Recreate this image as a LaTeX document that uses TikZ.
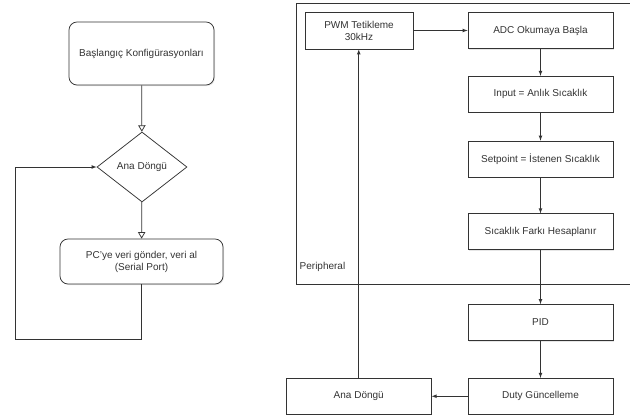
\documentclass[tikz,border=0pt]{standalone}
\usepackage{fontspec}
\setmainfont{Liberation Sans}
\usepackage{xcolor}
\usetikzlibrary{positioning}
\usetikzlibrary{shapes.geometric}
\usetikzlibrary{arrows}
\usetikzlibrary{shadows}

\definecolor{cizgi}{HTML}{333333}

\tikzset{
  kutu/.style={rectangle, draw=cizgi, fill=white, minimum width=145pt, minimum height=36pt,
    align=center, inner sep=2pt, drop shadow={shadow xshift=1pt, shadow yshift=-1pt, opacity=0.2}},
  yuvarlak/.style={kutu, rounded corners=8pt},
  karar/.style={diamond, draw=cizgi, fill=white, minimum width=90pt, minimum height=70pt, inner sep=0pt},
  acik/.style={-open triangle 60}
}

\begin{document}
\begin{tikzpicture}[x=1pt,y=-1pt,->,>=latex,node distance=28pt,line width=0.75pt,draw=cizgi,
  text=cizgi,font=\fontsize{10}{12}\selectfont]
\useasboundingbox (0,0) rectangle (630,416);

% ana program
\node[yuvarlak, minimum height=63pt] (basla) at (141.5,53.5) {Başlangıç Konfigürasyonları};
\node[karar] (dongu) at (142,167) {Ana Döngü};
\node[yuvarlak, minimum width=163pt, minimum height=45pt] (pc) at (141.5,261.5) {PC'ye veri gönder, veri al\\(Serial Port)};
\coordinate (donus) at (15,339);

\draw[acik] (basla) -- (dongu);
\draw[acik] (dongu) -- (pc);
\draw (pc.south) |- (donus) |- (dongu.west);

% kesme
\draw[-] (630,3) -- (296,3) -- (296,284) -- (630,284);
\node[anchor=west] (periferik) at (296,267) {Peripheral};

\node[kutu, minimum width=108pt, minimum height=37pt] (pwm) at (359,30.5) {PWM Tetikleme\\30kHz};
\node[kutu] (adc) at (540.5,30.5) {ADC Okumaya Başla};
\node[kutu, below=27pt of adc] (input) {Input = Anlık Sıcaklık};
\node[kutu, below=28pt of input] (setpoint) {Setpoint = İstenen Sıcaklık};
\node[kutu, below=36pt of setpoint] (fark) {Sıcaklık Farkı Hesaplanır};
\node[kutu, below=54pt of fark] (pid) {PID};
\node[kutu, below=37pt of pid] (duty) {Duty Güncelleme};
\node[kutu, left=36pt of duty] (anadongu) {Ana Döngü};

\path (pwm)      edge (adc)
      (adc)      edge (input)
      (input)    edge (setpoint)
      (setpoint) edge (fark)
      (fark)     edge (pid)
      (pid)      edge (duty)
      (duty)     edge (anadongu);
\draw (anadongu.north) -- (anadongu.north |- pwm.south);
\end{tikzpicture}
\end{document}
